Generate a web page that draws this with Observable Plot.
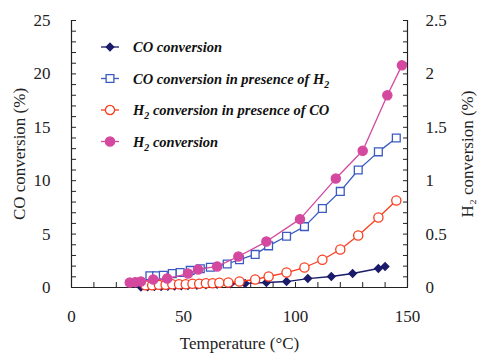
<!DOCTYPE html>
<html><head><meta charset="utf-8">
<script src="https://cdn.jsdelivr.net/npm/d3@7"></script>
<script src="https://cdn.jsdelivr.net/npm/@observablehq/plot@0.6"></script>
<style>body{margin:0;background:#fff}#chart{width:477px;height:355px}</style>
</head><body><div id="chart"></div>
<script>
// ---- data (temperature in °C) ----
const coTemp = [31, 34, 37, 40, 43, 46, 49, 52, 56, 60, 65, 71, 77.5, 87, 96, 105.5, 116, 125.5, 137, 140];
const coConv = [0.05, 0.07, 0.09, 0.1, 0.12, 0.14, 0.16, 0.18, 0.21, 0.25, 0.3, 0.34, 0.38, 0.47, 0.56, 0.84, 1.03, 1.31, 1.78, 1.97];

const coH2Temp = [35, 38, 41, 45, 48.5, 53, 57.5, 62, 69.5, 75, 82, 88, 96, 104, 112, 120, 128, 137, 145];
const coH2Conv = [1.1, 1.1, 1.15, 1.3, 1.4, 1.6, 1.75, 1.9, 2.2, 2.6, 3.1, 3.9, 4.8, 5.7, 7.4, 9.0, 11.0, 12.7, 14.0];

const h2CoTemp = [33, 36, 39, 42, 45, 48, 51, 54, 57, 60, 63, 66, 70, 75, 82, 88, 96, 104, 112, 120, 128, 137, 145];
const h2CoConv = [0.02, 0.02, 0.025, 0.025, 0.03, 0.03, 0.03, 0.035, 0.035, 0.04, 0.04, 0.045, 0.047, 0.056, 0.075, 0.103, 0.14, 0.187, 0.26, 0.356, 0.487, 0.655, 0.815];

const h2Temp = [26, 28.5, 31, 36.5, 42.7, 52, 56.5, 65, 74.5, 87, 102, 118, 130, 141, 147.5];
const h2Conv = [0.047, 0.05, 0.056, 0.075, 0.084, 0.131, 0.169, 0.197, 0.29, 0.43, 0.64, 1.02, 1.28, 1.80, 2.08];

const xDomain = [0, 150];
const yDomain = [0, 25];
const xTicks = d3.range(0, 151, 10);
const xLabels = [0, 50, 100, 150];
const yTicks = d3.range(0, 26, 1);
const yLabels = [0, 5, 10, 15, 20, 25];
const y2Labels = [0, 0.5, 1, 1.5, 2, 2.5];
const rightToLeft = 10; // right axis (H2 %) × 10 = left axis (CO %)

const series = [
  {key: "co",   label: [["CO conversion", false]], temp: coTemp, val: coConv, axis: "left",
   color: "#1b1b6b", symbol: "diamond2", r: 3.4, fill: "#1b1b6b"},
  {key: "coh2", label: [["CO conversion in presence of H", false], ["2", true]], temp: coH2Temp, val: coH2Conv, axis: "left",
   color: "#3b5bc2", symbol: "square", r: 4.4, fill: "white"},
  {key: "h2co", label: [["H", false], ["2", true], [" conversion in presence of CO", false]], temp: h2CoTemp, val: h2CoConv, axis: "right",
   color: "#fb3d1f", symbol: "circle", r: 4.6, fill: "white"},
  {key: "h2",   label: [["H", false], ["2", true], [" conversion", false]], temp: h2Temp, val: h2Conv, axis: "right",
   color: "#d4489f", symbol: "circle", r: 4.6, fill: "#d4489f"}
];

const rows = s => s.temp.map((t, i) => ({T: t, v: s.axis === "right" ? s.val[i] * rightToLeft : s.val[i]}));

const font = "'Liberation Serif', 'Times New Roman', serif";
const marks = [
  Plot.ruleX(xDomain, {stroke: "#222", strokeWidth: 1.2}),
  Plot.ruleY([yDomain[0]], {stroke: "#222", strokeWidth: 1.2}),
  Plot.axisX({ticks: xTicks, tickSize: 5, dy: -5, tickFormat: () => "", label: null, stroke: "#222"}),
  Plot.axisX({ticks: xLabels, tickSize: 0, tickPadding: 22, label: "Temperature (°C)", labelAnchor: "center", labelOffset: 61, labelArrow: false}),
  Plot.axisY({ticks: yTicks, tickSize: 5, dx: 5, tickFormat: () => "", label: null, stroke: "#222"}),
  Plot.axisY({ticks: yLabels, tickSize: 0, tickPadding: 21, label: "CO conversion (%)", labelAnchor: "center", labelOffset: 59, labelArrow: false}),
  Plot.axisY({anchor: "right", ticks: yTicks, tickSize: 5, dx: -5, tickFormat: () => "", label: null, stroke: "#222"}),
  Plot.axisY({anchor: "right", ticks: y2Labels.map(v => v * rightToLeft), tickFormat: (d, i) => String(y2Labels[i]), tickSize: 0, tickPadding: 18,
    label: "H₂ conversion (%)", labelAnchor: "center", labelOffset: 65, labelArrow: false})
];
for (const s of series) {
  const data = rows(s);
  marks.push(Plot.line(data, {x: "T", y: "v", stroke: s.color, strokeWidth: 1.3}));
  marks.push(Plot.dot(data, {x: "T", y: "v", symbol: s.symbol, r: s.r, fill: s.fill, stroke: s.color, strokeWidth: 1.3}));
}

const plot = Plot.plot({
  width: 477, height: 355,
  marginLeft: 71, marginRight: 70, marginTop: 20, marginBottom: 68,
  style: {fontFamily: font, fontSize: "17px", color: "#222", background: "#fff"},
  x: {domain: xDomain},
  y: {domain: yDomain},
  marks
});
document.getElementById("chart").appendChild(plot);

// ---- legend (inside the plot, top-left) ----
const svg = d3.select(plot);
const lg = svg.append("g").attr("class", "legend").attr("text-anchor", "start");
const symMap = {diamond2: d3.symbolDiamond2, square: d3.symbolSquare, circle: d3.symbolCircle};
series.forEach((s, i) => {
  const y = 47 + i * 31.5;
  const g = lg.append("g").attr("transform", `translate(0,${y})`);
  g.append("line").attr("x1", 101).attr("x2", 119).attr("y1", 0).attr("y2", 0)
    .attr("stroke", s.color).attr("stroke-width", 1.3);
  g.append("path").attr("transform", "translate(110,0)")
    .attr("d", d3.symbol(symMap[s.symbol], Math.PI * s.r * s.r)())
    .attr("fill", s.fill).attr("stroke", s.color).attr("stroke-width", 1.3);
  const t = g.append("text").attr("x", 133).attr("y", 5).attr("text-anchor", "start")
    .attr("font-family", font).attr("font-size", 14.5).attr("font-weight", "bold").attr("font-style", "italic")
    .attr("fill", "#111");
  let shifted = false;
  for (const [str, sub] of s.label) {
    const ts = t.append("tspan").text(str);
    if (sub) { ts.attr("font-size", 10).attr("dy", 4); shifted = true; }
    else if (shifted) { ts.attr("dy", -4); shifted = false; }
  }
});
</script>
</body></html>
